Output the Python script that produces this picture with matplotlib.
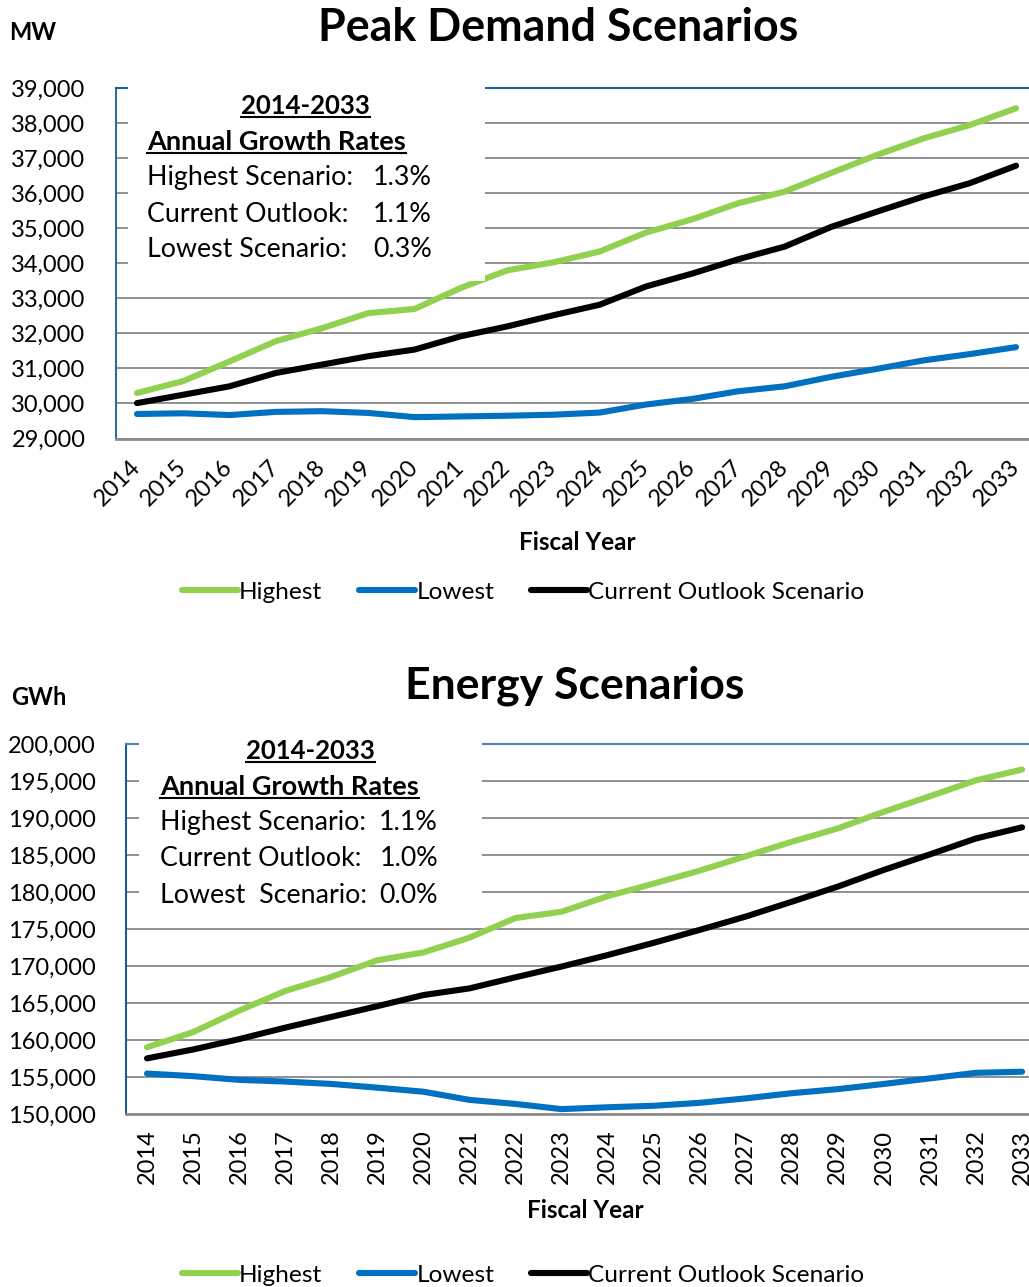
import numpy as np
import matplotlib.pyplot as plt
from matplotlib.lines import Line2D
from matplotlib.patches import Rectangle
from matplotlib.ticker import FuncFormatter

plt.rcParams['font.family'] = ['Lato', 'DejaVu Sans']

years = np.arange(2014, 2034)

# Peak demand (MW)
peak_highest = [30300, 30640, 31200, 31780, 32150, 32580, 32700, 33300, 33800, 34030,
                34340, 34880, 35260, 35720, 36050, 36580, 37100, 37570, 37950, 38430]
peak_current = [30010, 30250, 30490, 30870, 31110, 31350, 31540, 31920, 32200, 32520,
                32820, 33340, 33710, 34120, 34480, 35040, 35480, 35910, 36290, 36790]
peak_lowest = [29700, 29720, 29670, 29760, 29780, 29730, 29610, 29630, 29650, 29680,
               29740, 29970, 30130, 30350, 30490, 30760, 30990, 31230, 31410, 31610]

# Energy (GWh)
energy_highest = [159050, 161100, 164000, 166650, 168550, 170800, 171850, 173850, 176500, 177350,
                  179450, 181150, 182900, 184850, 186800, 188600, 190850, 192950, 195100, 196550]
energy_current = [157550, 158750, 160150, 161700, 163150, 164600, 166100, 167000, 168500, 169950,
                  171500, 173150, 174900, 176700, 178700, 180750, 183000, 185100, 187250, 188750]
energy_lowest = [155500, 155150, 154650, 154420, 154100, 153600, 153050, 151950, 151400, 150700,
                 150950, 151150, 151550, 152150, 152850, 153400, 154100, 154850, 155600, 155750]

peak_rates = [("Highest Scenario:", "1.3%"), ("Current Outlook:", "1.1%"), ("Lowest Scenario:", "0.3%")]
energy_rates = [("Highest Scenario:", "1.1%"), ("Current Outlook:", "1.0%"), ("Lowest  Scenario:", "0.0%")]

GREEN = '#92D050'
BLUE = '#0070C0'
BLACK = '#000000'
GRID = '#878787'

W, H = 1029, 1287
fig = plt.figure(figsize=(W / 100, H / 100), dpi=100)

def px_axes(left, right, top, bottom):
    return [left / W, 1 - bottom / H, (right - left) / W, (bottom - top) / H]

ax1 = fig.add_axes(px_axes(116, 1029, 88.3, 438.5))
ax2 = fig.add_axes(px_axes(126, 1029, 744, 1114.3))

underlines = []

def setup(ax, series, ylim, ystep, xlim, rot, top_color, left_color, box, txt, rates):
    for vals, col in series:
        ax.plot(years, vals, color=col, linewidth=4.4, solid_capstyle='round',
                solid_joinstyle='round', zorder=2)
    ax.set_xlim(*xlim)
    ax.set_ylim(*ylim)
    ax.set_yticks(np.arange(ylim[0], ylim[1] + 1, ystep))
    ax.yaxis.set_major_formatter(FuncFormatter(lambda v, p: f'{int(v):,}'))
    ax.set_xticks(years)
    ax.grid(axis='y', color=GRID, linewidth=1.3)
    ax.set_axisbelow(True)
    ax.spines['right'].set_visible(False)
    ax.spines['top'].set_color(top_color)
    ax.spines['top'].set_linewidth(1.5)
    ax.spines['left'].set_color(left_color)
    ax.spines['left'].set_linewidth(1.5)
    ax.spines['bottom'].set_color('#8C8C8C')
    ax.spines['bottom'].set_linewidth(2)
    ax.tick_params(axis='y', length=0, pad=22, labelsize=17)
    if rot == 45:
        ax.tick_params(axis='x', length=0, pad=18, labelsize=17)
        for lab in ax.get_xticklabels():
            lab.set_rotation(45)
            lab.set_ha('right')
            lab.set_va('center')
            lab.set_rotation_mode('anchor')
    else:
        ax.tick_params(axis='x', length=0, pad=11, labelsize=17, labelrotation=90)
    ax.set_xlabel('Fiscal Year', fontsize=17.5, fontweight='bold')
    # white text box covering the gridlines
    ax.add_patch(Rectangle((box[0], box[1]), box[2] - box[0], 1.01 - box[1],
                           transform=ax.transAxes, facecolor='white', edgecolor='none',
                           zorder=3, clip_on=False))
    t1 = ax.text(txt['cx'], txt['y'][0], '2014-2033', transform=ax.transAxes, ha='center',
                 va='center', fontsize=18.5, fontweight='bold', zorder=4)
    t2 = ax.text(txt['lx'], txt['y'][1], 'Annual Growth Rates', transform=ax.transAxes,
                 ha='left', va='center', fontsize=19.5, fontweight='bold', zorder=4)
    underlines.extend([t1, t2])
    for (lab, val), yy in zip(rates, txt['y'][2:]):
        ax.text(txt['lx'], yy, lab, transform=ax.transAxes, ha='left', va='center',
                fontsize=19.3, zorder=4)
        ax.text(txt['rx'], yy, val, transform=ax.transAxes, ha='right', va='center',
                fontsize=19.3, zorder=4)

setup(ax1, [(peak_highest, GREEN), (peak_lowest, BLUE), (peak_current, BLACK)],
      (29000, 39000), 1000, (2013.546, 2033.28), 45, '#1F5F99', '#2E6DA4',
      (0.0131, 0.4497, 0.404),
      dict(cx=0.208, lx=0.034, rx=0.346, y=[0.949, 0.847, 0.744, 0.641, 0.541]),
      peak_rates)
setup(ax2, [(energy_highest, GREEN), (energy_lowest, BLUE), (energy_current, BLACK)],
      (150000, 200000), 5000, (2013.544, 2033.15), 90, '#4F81BD', '#1F5C99',
      (0.0144, 0.552, 0.394),
      dict(cx=0.204, lx=0.0377, rx=0.3455, y=[0.981, 0.884, 0.787, 0.690, 0.592]),
      energy_rates)

ax1.xaxis.set_label_coords((577 - 116) / 913, -(543 - 438.5) / 350.2)
ax2.xaxis.set_label_coords((585 - 126) / 903, -(1211 - 1114.3) / 370.3)
ax1.xaxis.label.set_va('center')
ax2.xaxis.label.set_va('center')

fig.text(558 / W, 1 - 28 / H, 'Peak Demand Scenarios', ha='center', va='center',
         fontsize=32.2, fontweight='bold')
fig.text(575 / W, 1 - 686 / H, 'Energy Scenarios', ha='center', va='center',
         fontsize=32, fontweight='bold')
fig.text(33 / W, 1 - 33 / H, 'MW', ha='center', va='center', fontsize=17, fontweight='bold')
fig.text(39 / W, 1 - 697 / H, 'GWh', ha='center', va='center', fontsize=17, fontweight='bold')

handles = [Line2D([], [], color=GREEN, linewidth=4.4, solid_capstyle='round'),
           Line2D([], [], color=BLUE, linewidth=4.4, solid_capstyle='round'),
           Line2D([], [], color=BLACK, linewidth=4.4, solid_capstyle='round')]
labels = ['Highest', 'Lowest', 'Current Outlook Scenario']
for yc in [1 - 592 / H, 1 - 1275 / H]:
    fig.legend(handles, labels, loc='center', bbox_to_anchor=(523 / W, yc), ncol=3,
               frameon=False, fontsize=17.6, handlelength=2.3, handletextpad=0.05,
               columnspacing=1.5, borderaxespad=0)

# underline the box headings
fig.canvas.draw()
inv = fig.transFigure.inverted()
for t in underlines:
    bb = t.get_window_extent()
    (x0, y0), (x1, _) = inv.transform([(bb.x0, bb.y0), (bb.x1, bb.y1)])
    fig.add_artist(Line2D([x0, x1], [y0 + 1 / H, y0 + 1 / H], color='black', linewidth=1.5,
                          zorder=5))

fig.savefig('out.png', dpi=100)
